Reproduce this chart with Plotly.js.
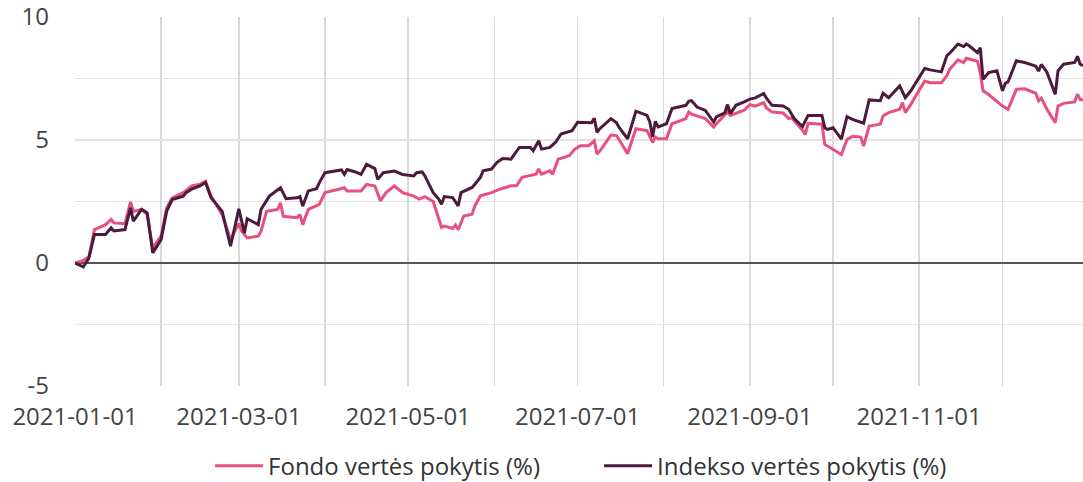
<!DOCTYPE html>
<html><head><meta charset="utf-8">
<script src="https://cdn.plot.ly/plotly-3.0.1.min.js"></script>
<style>html,body{margin:0;padding:0;background:#fff}#chart{width:1083px;height:482px}</style>
</head><body><div id="chart"></div>
<script>
const fundName = "Fondo vertės pokytis (%)";
const indexName = "Indekso vertės pokytis (%)";

const fundDates = ["2021-01-01","2021-01-04","2021-01-06","2021-01-08","2021-01-12","2021-01-14","2021-01-15","2021-01-19","2021-01-21","2021-01-22","2021-01-25","2021-01-27","2021-01-29","2021-02-01","2021-02-03","2021-02-05","2021-02-09","2021-02-10","2021-02-12","2021-02-15","2021-02-17","2021-02-19","2021-02-23","2021-02-26","2021-03-01","2021-03-02","2021-03-04","2021-03-08","2021-03-09","2021-03-11","2021-03-15","2021-03-16","2021-03-17","2021-03-22","2021-03-23","2021-03-24","2021-03-26","2021-03-30","2021-04-01","2021-04-06","2021-04-08","2021-04-09","2021-04-12","2021-04-14","2021-04-16","2021-04-19","2021-04-21","2021-04-23","2021-04-26","2021-04-29","2021-05-03","2021-05-05","2021-05-07","2021-05-10","2021-05-12","2021-05-13","2021-05-14","2021-05-17","2021-05-18","2021-05-19","2021-05-21","2021-05-24","2021-05-25","2021-05-27","2021-05-31","2021-06-03","2021-06-07","2021-06-09","2021-06-11","2021-06-14","2021-06-16","2021-06-17","2021-06-18","2021-06-21","2021-06-22","2021-06-24","2021-06-28","2021-06-30","2021-07-02","2021-07-05","2021-07-07","2021-07-08","2021-07-09","2021-07-13","2021-07-15","2021-07-16","2021-07-19","2021-07-22","2021-07-26","2021-07-28","2021-07-29","2021-07-30","2021-08-02","2021-08-04","2021-08-09","2021-08-10","2021-08-11","2021-08-16","2021-08-19","2021-08-20","2021-08-24","2021-08-25","2021-08-30","2021-09-01","2021-09-03","2021-09-06","2021-09-07","2021-09-09","2021-09-13","2021-09-15","2021-09-16","2021-09-20","2021-09-21","2021-09-22","2021-09-27","2021-09-28","2021-10-01","2021-10-04","2021-10-06","2021-10-08","2021-10-11","2021-10-12","2021-10-14","2021-10-18","2021-10-19","2021-10-21","2021-10-25","2021-10-26","2021-10-27","2021-10-29","2021-11-03","2021-11-05","2021-11-09","2021-11-11","2021-11-12","2021-11-15","2021-11-17","2021-11-18","2021-11-22","2021-11-23","2021-11-24","2021-11-26","2021-12-01","2021-12-02","2021-12-03","2021-12-06","2021-12-09","2021-12-13","2021-12-14","2021-12-15","2021-12-17","2021-12-20","2021-12-21","2021-12-23","2021-12-27","2021-12-28","2021-12-29","2021-12-30"];
const fundValues = [0,0.1,0.25,1.36,1.56,1.77,1.63,1.6,2.48,2.1,2.18,1.97,0.61,1.09,2.24,2.65,2.86,2.95,3.13,3.2,3.33,2.72,1.97,0.95,1.6,1.3,1.02,1.09,1.29,2.1,2.18,2.45,1.9,1.84,1.97,1.56,2.18,2.38,2.86,3.0,3.06,2.93,2.93,2.93,3.2,3.13,2.52,2.86,3.13,2.86,2.72,2.6,2.7,2.5,1.8,1.45,1.5,1.4,1.55,1.35,1.91,1.98,2.32,2.73,2.86,3.0,3.14,3.14,3.48,3.54,3.61,3.82,3.61,3.75,3.61,4.22,4.36,4.63,4.77,4.77,4.97,4.43,4.55,5.2,5.18,5.0,4.44,5.46,5.38,4.9,5.12,5.05,5.05,5.66,5.87,6.14,6.05,5.87,5.53,5.66,6.14,6.0,6.21,6.44,6.38,6.52,6.3,6.14,6.1,5.87,5.9,5.4,5.23,5.68,5.64,4.82,4.62,4.41,5.02,5.15,5.12,4.75,5.57,5.64,5.98,6.11,6.25,6.52,6.11,6.45,7.4,7.33,7.33,7.61,7.88,8.26,8.15,8.32,8.2,7.74,7.0,6.85,6.38,6.32,6.25,7.06,7.08,6.9,6.59,6.7,6.25,5.7,6.38,6.49,6.55,6.86,6.65,6.63];

const indexDates = ["2021-01-01","2021-01-04","2021-01-06","2021-01-08","2021-01-12","2021-01-14","2021-01-15","2021-01-19","2021-01-21","2021-01-22","2021-01-25","2021-01-27","2021-01-29","2021-02-01","2021-02-03","2021-02-05","2021-02-09","2021-02-10","2021-02-12","2021-02-15","2021-02-17","2021-02-19","2021-02-23","2021-02-26","2021-03-01","2021-03-03","2021-03-04","2021-03-08","2021-03-09","2021-03-12","2021-03-16","2021-03-18","2021-03-22","2021-03-23","2021-03-24","2021-03-26","2021-03-29","2021-03-30","2021-04-01","2021-04-06","2021-04-07","2021-04-08","2021-04-09","2021-04-12","2021-04-14","2021-04-16","2021-04-19","2021-04-20","2021-04-22","2021-04-26","2021-04-29","2021-05-03","2021-05-04","2021-05-06","2021-05-07","2021-05-10","2021-05-12","2021-05-13","2021-05-14","2021-05-17","2021-05-19","2021-05-20","2021-05-24","2021-05-25","2021-05-27","2021-05-28","2021-05-31","2021-06-02","2021-06-04","2021-06-07","2021-06-10","2021-06-14","2021-06-15","2021-06-17","2021-06-18","2021-06-21","2021-06-23","2021-06-25","2021-06-29","2021-07-01","2021-07-05","2021-07-06","2021-07-07","2021-07-08","2021-07-09","2021-07-13","2021-07-15","2021-07-16","2021-07-19","2021-07-22","2021-07-26","2021-07-27","2021-07-28","2021-07-29","2021-07-30","2021-08-02","2021-08-04","2021-08-09","2021-08-10","2021-08-11","2021-08-13","2021-08-16","2021-08-19","2021-08-20","2021-08-23","2021-08-24","2021-08-25","2021-08-27","2021-08-30","2021-09-01","2021-09-03","2021-09-06","2021-09-07","2021-09-09","2021-09-13","2021-09-14","2021-09-15","2021-09-17","2021-09-20","2021-09-22","2021-09-27","2021-09-28","2021-09-29","2021-10-01","2021-10-04","2021-10-06","2021-10-08","2021-10-12","2021-10-14","2021-10-18","2021-10-19","2021-10-21","2021-10-22","2021-10-25","2021-10-27","2021-10-29","2021-11-03","2021-11-05","2021-11-09","2021-11-11","2021-11-12","2021-11-15","2021-11-17","2021-11-18","2021-11-19","2021-11-22","2021-11-23","2021-11-24","2021-11-26","2021-11-29","2021-12-01","2021-12-02","2021-12-03","2021-12-06","2021-12-09","2021-12-13","2021-12-14","2021-12-15","2021-12-17","2021-12-20","2021-12-21","2021-12-23","2021-12-27","2021-12-28","2021-12-29","2021-12-30"];
const indexValues = [0,-0.16,0.2,1.16,1.16,1.43,1.3,1.36,2.24,1.7,2.18,2.04,0.41,0.95,2.1,2.58,2.72,2.86,3.0,3.13,3.27,2.65,2.1,0.68,2.2,1.22,1.8,1.56,2.18,2.72,3.06,2.61,2.65,2.7,2.31,2.93,3.02,3.27,3.67,3.74,3.78,3.6,3.8,3.7,3.6,4.01,3.84,3.4,3.67,3.74,3.6,3.54,3.67,3.7,3.54,2.86,2.6,2.39,2.7,2.66,2.32,2.86,3.07,3.2,3.48,3.75,3.82,4.09,4.25,4.22,4.7,4.7,4.56,4.97,4.63,4.7,4.9,5.24,5.38,5.72,5.72,5.7,5.88,5.31,5.46,5.87,5.7,5.5,5.05,6.17,6.0,5.73,5.12,5.76,5.53,5.66,6.28,6.41,6.57,6.6,6.34,6.2,5.73,5.94,6.1,6.44,6.07,6.41,6.55,6.66,6.71,6.89,6.7,6.41,6.38,6.3,6.25,5.87,5.55,6.0,6.0,5.5,5.43,5.5,5.04,5.95,5.84,5.68,6.63,6.6,6.9,6.72,6.85,7.2,6.72,7.0,7.91,7.85,7.77,8.43,8.53,8.9,8.8,8.9,8.83,8.55,8.75,7.47,7.74,7.81,7.0,7.3,7.36,8.22,8.15,8.0,7.8,8.07,7.76,6.86,7.81,8.08,8.15,8.4,8.08,8.02];

const yTickVals = [-5, 0, 5, 10];
const yTickText = ["-5", "0", "5", "10"];
const xRange = ["2021-01-01", "2021-12-30"];

const FONT = "Open Sans, Noto Sans, sans-serif";
const data = [
  {x: fundDates, y: fundValues, type: "scatter", mode: "lines", name: fundName,
   line: {color: "#e8507e", width: 3}},
  {x: indexDates, y: indexValues, type: "scatter", mode: "lines", name: indexName,
   line: {color: "#4b1a3c", width: 3}}
];
const layout = {
  width: 1083, height: 482,
  margin: {l: 75, r: 0, t: 17, b: 96, autoexpand: false},
  paper_bgcolor: "#fff", plot_bgcolor: "#fff",
  font: {family: FONT, size: 24, color: "#444"},
  showlegend: true,
  legend: {orientation: "h", x: 0.134, xanchor: "left", y: -0.217, yanchor: "middle",
           itemwidth: 48, entrywidth: 326, tracegroupgap: 0,
           font: {family: FONT, size: 24, color: "#333"}},
  xaxis: {type: "date", range: xRange, tick0: "2021-01-01", dtick: "M2", automargin: false,
          tickformat: "%Y-%m-%d", showgrid: true, gridcolor: "#d9d9d9", gridwidth: 1.5,
          minor: {dtick: "M1", showgrid: true, gridcolor: "#d9d9d9", gridwidth: 1.5},
          zeroline: false, showline: false, ticks: "", ticklabelstandoff: 14,
          tickfont: {size: 24, color: "#444"}},
  yaxis: {range: [-5, 10], tickvals: yTickVals, ticktext: yTickText, ticklabeloverflow: "allow",
          automargin: false, showgrid: true, gridcolor: "#e3e3e3", gridwidth: 1.5,
          minor: {dtick: 2.5, tick0: 0, showgrid: true, gridcolor: "#e3e3e3", gridwidth: 1.5},
          zeroline: true, zerolinecolor: "#555", zerolinewidth: 1.5, showline: false, ticks: "",
          ticklabelstandoff: 25, tickfont: {size: 24, color: "#444"}}
};
Plotly.newPlot("chart", data, layout, {displayModeBar: false, staticPlot: true});
</script></body></html>
